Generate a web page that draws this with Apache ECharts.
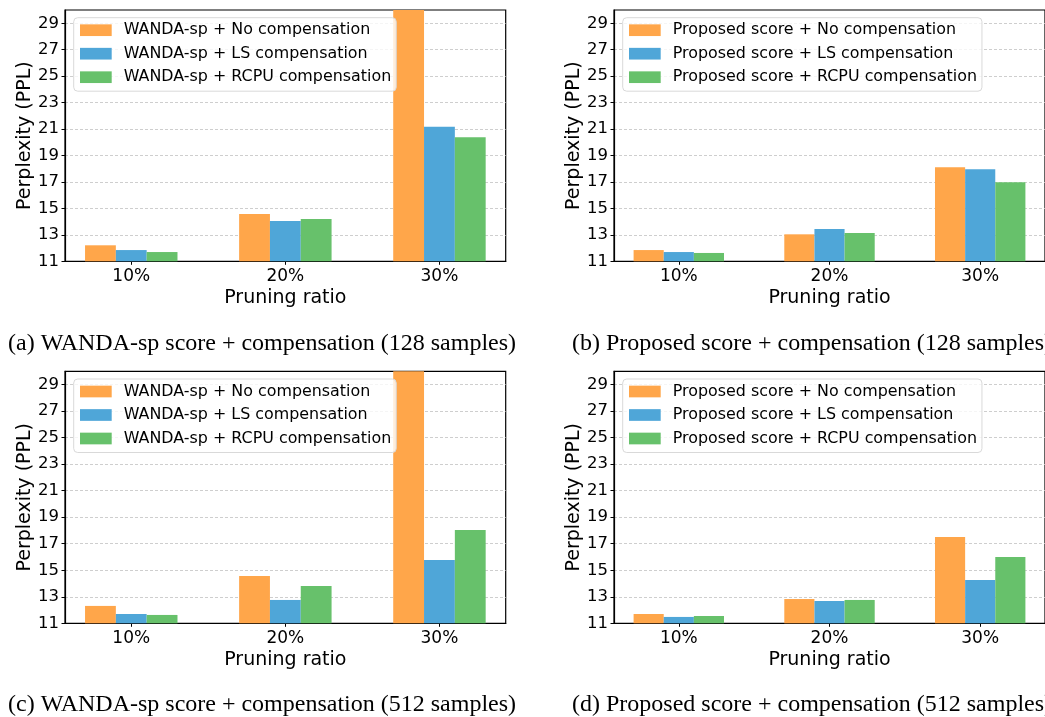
<!DOCTYPE html>
<html>
<head>
<meta charset="utf-8">
<title>Perplexity vs pruning ratio</title>
<script src="https://cdn.jsdelivr.net/npm/echarts@6/dist/echarts.min.js"></script>
<style>
  html, body { margin: 0; padding: 0; background: #fff; }
  #chart { width: 1045px; height: 717px; }
</style>
</head>
<body>
<div id="chart"></div>
<script>
// Categories and tick labels
const ratios = ['10%', '20%', '30%'];
const yTicks = [11, 13, 15, 17, 19, 21, 23, 25, 27, 29];

// Series names
const wandaNames = ['WANDA-sp + No compensation', 'WANDA-sp + LS compensation', 'WANDA-sp + RCPU compensation'];
const propNames = ['Proposed score + No compensation', 'Proposed score + LS compensation', 'Proposed score + RCPU compensation'];

// Perplexity values, 128 calibration samples
const wandaNo128 = [12.21, 14.57, 34.0];
const wandaLS128 = [11.85, 14.04, 21.18];
const wandaRCPU128 = [11.70, 14.19, 20.37];
const propNo128 = [11.85, 13.04, 18.11];
const propLS128 = [11.70, 13.44, 17.96];
const propRCPU128 = [11.63, 13.14, 16.98];

// Perplexity values, 512 calibration samples
const wandaNo512 = [12.31, 14.57, 34.0];
const wandaLS512 = [11.70, 12.76, 15.77];
const wandaRCPU512 = [11.63, 13.81, 18.03];
const propNo512 = [11.70, 12.83, 17.50];
const propLS512 = [11.48, 12.68, 14.26];
const propRCPU512 = [11.55, 12.76, 16.00];

// Sub-figure captions
const captions = [
  '(a) WANDA-sp score + compensation (128 samples)',
  '(b) Proposed score + compensation (128 samples)',
  '(c) WANDA-sp score + compensation (512 samples)',
  '(d) Proposed score + compensation (512 samples)'
];

const colors = ['#FFA64A', '#4FA6D8', '#67C16B'];
const sans = 'DejaVu Sans';

const panels = [
  { left: 65, top: 10, height: 251.3, names: wandaNames, data: [wandaNo128, wandaLS128, wandaRCPU128] },
  { left: 614, top: 10, height: 251.3, names: propNames, data: [propNo128, propLS128, propRCPU128] },
  { left: 65, top: 371.3, height: 252, names: wandaNames, data: [wandaNo512, wandaLS512, wandaRCPU512] },
  { left: 614, top: 371.3, height: 252, names: propNames, data: [propNo512, propLS512, propRCPU512] }
];
const plotWidth = 440.7;

const grid = [], xAxis = [], yAxis = [], legend = [], series = [], graphic = [];

panels.forEach((p, k) => {
  grid.push({
    left: p.left, top: p.top, width: plotWidth, height: p.height,
    show: true, borderColor: '#000', borderWidth: 1.2, backgroundColor: 'transparent'
  });
  xAxis.push({
    type: 'value', gridIndex: k, min: -0.43, max: 2.43,
    name: 'Pruning ratio', nameLocation: 'middle', nameGap: 27,
    nameTextStyle: { fontFamily: sans, fontSize: 19, color: '#000' },
    axisLine: { show: true, onZero: false, lineStyle: { color: '#000', width: 1.2 } },
    axisTick: { show: true, customValues: [0, 1, 2], length: 3.5, lineStyle: { color: '#000' } },
    axisLabel: {
      customValues: [0, 1, 2], margin: 7,
      fontFamily: sans, fontSize: 17, color: '#000',
      formatter: v => ratios[Math.round(v)]
    },
    splitLine: { show: false }
  });
  yAxis.push({
    type: 'value', gridIndex: k, min: 11, max: 30, interval: 2,
    name: 'Perplexity (PPL)', nameLocation: 'middle', nameGap: 29,
    nameTextStyle: { fontFamily: sans, fontSize: 19, color: '#000' },
    axisLine: { show: true, onZero: false, lineStyle: { color: '#000', width: 1.2 } },
    axisTick: { show: true, customValues: yTicks, length: 3.5, lineStyle: { color: '#000' } },
    axisLabel: { customValues: yTicks, margin: 6, fontFamily: sans, fontSize: 16.5, color: '#000' },
    splitLine: { show: true, lineStyle: { color: '#c8c8c8', type: [3, 2], width: 0.9 } }
  });
  legend.push({
    data: p.names, orient: 'vertical',
    left: p.left + 8.7, top: p.top + 7.7,
    itemWidth: 31.7, itemHeight: 11.7, itemGap: 5.5,
    icon: 'rect',
    padding: [3.5, 5, 5, 6.3],
    backgroundColor: 'rgba(255,255,255,0.8)',
    borderColor: '#d9d9d9', borderWidth: 1, borderRadius: 4,
    textStyle: { fontFamily: sans, fontSize: 15.9, color: '#000', lineHeight: 18, padding: [0, 0, 0, 7] }
  });
  p.names.forEach((name, s) => {
    series.push({
      type: 'bar', name: name,
      xAxisIndex: k, yAxisIndex: k,
      barWidth: '20%', barGap: '0%',
      clip: true,
      itemStyle: { color: colors[s] },
      emphasis: { disabled: true },
      data: p.data[s].map((v, i) => [i, v])
    });
  });
});

// Captions under each sub-figure
const capPos = [[8, 344], [572, 344], [8, 705], [572, 705]];
captions.forEach((t, k) => {
  graphic.push({
    type: 'text', x: capPos[k][0], y: capPos[k][1],
    style: { text: t, font: '24px "Liberation Serif"', fill: '#000', verticalAlign: 'middle' }
  });
});

const chart = echarts.init(document.getElementById('chart'), null, { renderer: 'canvas' });
chart.setOption({
  animation: false,
  backgroundColor: '#fff',
  color: colors,
  grid, xAxis, yAxis, legend, series, graphic
});
</script>
</body>
</html>
